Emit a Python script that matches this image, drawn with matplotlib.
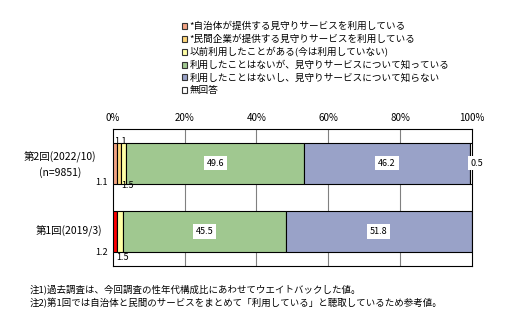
import numpy as np
import matplotlib.pyplot as plt
from matplotlib.patches import Patch

plt.rcParams['font.family'] = ['Noto Sans CJK JP', 'DejaVu Sans']

# survey rounds, bottom to top
rounds = ['第1回(2019/3)', '第2回(2022/10)\n(n=9851)']
categories = [
    '*自治体が提供する見守りサービスを利用している',
    '*民間企業が提供する見守りサービスを利用している',
    '以前利用したことがある(今は利用していない)',
    '利用したことはないが、見守りサービスについて知っている',
    '利用したことはないし、見守りサービスについて知らない',
    '無回答',
]
# percentages per category, [round1, round2]
local_gov = [1.2, 1.1]
private = [0.0, 1.1]
used_before = [1.5, 1.5]
know = [45.5, 49.6]
not_know = [51.8, 46.2]
no_answer = [0.0, 0.5]

colors = ['#F4A484', '#FFD77A', '#FFFFA6', '#A0C890', '#99A2C8', '#FFFFFF']
# round 1 asked both services as one answer
first_colors = ['#FF0000', '#F4A484']

series = [local_gov, private, used_before, know, not_know, no_answer]

fig = plt.figure(figsize=(5.23, 3.28), dpi=100)
ax = fig.add_axes([0.216, 0.189, 0.686, 0.418])

y = np.arange(len(rounds))
left = np.zeros(len(rounds))
bars = []
for i, vals in enumerate(series):
    vals = np.array(vals)
    c = first_colors if i == 0 else [colors[i]] * len(rounds)
    ax.barh(y, vals, left=left, height=0.6, color=c, edgecolor='black',
            linewidth=0.8, zorder=3)
    bars.append((vals, left.copy()))
    left += vals

ax.set_xlim(0, 100)
ax.set_ylim(-0.5, 1.5)
ax.set_xticks(np.arange(0, 101, 20))
ax.set_xticklabels([f'{v}%' for v in range(0, 101, 20)], fontsize=7)
ax.xaxis.tick_top()
ax.tick_params(axis='x', length=0, pad=4)
ax.set_yticks([])
for v in range(20, 100, 20):
    ax.axvline(v, color='#808080', linewidth=0.8, zorder=1)
for s in ax.spines.values():
    s.set_linewidth(0.8)

# round labels on the left
fig.text(0.115, 0.52, '第2回(2022/10)', fontsize=7.5, ha='center', va='center')
fig.text(0.115, 0.475, '(n=9851)', fontsize=7.5, ha='center', va='center')
ax.text(-3, 0, '第1回(2019/3)', fontsize=7.5, ha='right', va='center')

box = dict(facecolor='white', edgecolor='none', pad=2)
# large segments labelled in the middle
for i in (3, 4):
    vals, starts = bars[i]
    for j in range(len(rounds)):
        ax.text(starts[j] + vals[j] / 2, y[j], f'{vals[j]:.1f}', fontsize=6.5,
                ha='center', va='center', bbox=box, zorder=5)

# small segments labelled outside the bar
ax.text(bars[0][1][1] + 0.3, 1.32, f'{local_gov[1]:.1f}', fontsize=6.5, ha='left', va='center')
ax.text(-1.5, 0.72, f'{private[1]:.1f}', fontsize=6.5, ha='right', va='center')
ax.text(bars[2][1][1] + 0.2, 0.67, f'{used_before[1]:.1f}', fontsize=6.5, ha='left', va='center')
ax.text(-1.5, -0.3, f'{local_gov[0]:.1f}', fontsize=6.5, ha='right', va='center')
ax.text(bars[2][1][0] - 0.2, -0.37, f'{used_before[0]:.1f}', fontsize=6.5, ha='left', va='center')
ax.text(bars[5][1][1] + 0.1, y[1], f'{no_answer[1]:.1f}', fontsize=6.5,
        ha='left', va='center', bbox=box, zorder=5)

# legend
handles = [Patch(facecolor=c, edgecolor='#333333', linewidth=0.8) for c in colors]
fig.legend(handles, categories, loc='upper left', bbox_to_anchor=(0.34, 0.945),
           frameon=False, fontsize=6.9, handlelength=0.6, handleheight=0.6,
           handletextpad=0.25, labelspacing=0.34, borderaxespad=0)

fig.text(0.057, 0.118, '注1)過去調査は、今回調査の性年代構成比にあわせてウエイトバックした値。', fontsize=6.8, va='center')
fig.text(0.057, 0.075, '注2)第1回では自治体と民間のサービスをまとめて「利用している」と聴取しているため参考値。', fontsize=6.8, va='center')

fig.savefig('out.png', dpi=100)
